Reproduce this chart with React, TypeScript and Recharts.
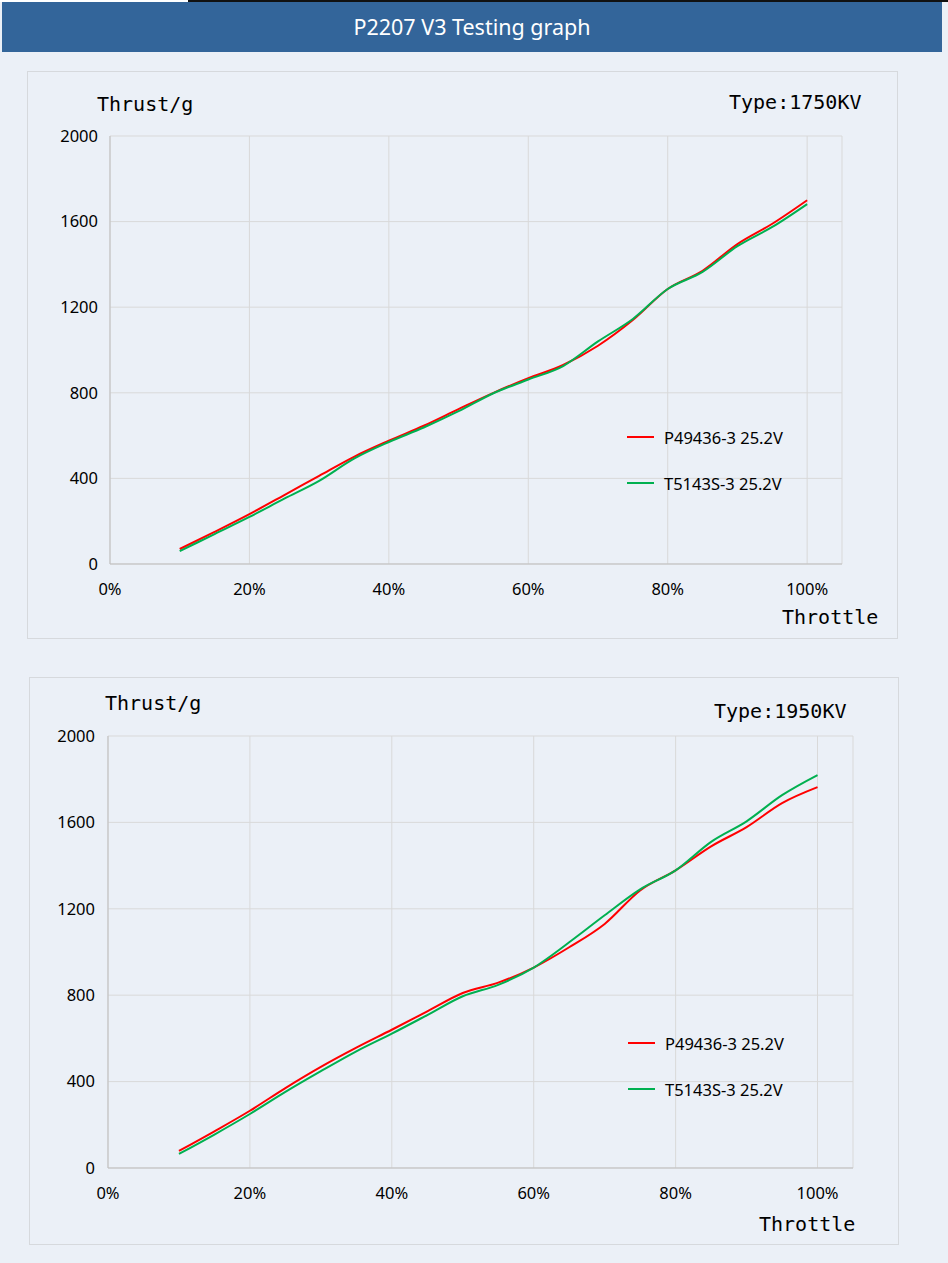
import { CartesianGrid, Line, LineChart, XAxis, YAxis } from "recharts";

const THROTTLE = [10, 15, 20, 25, 30, 35, 40, 45, 50, 55, 60, 65, 70, 75, 80, 85, 90, 95, 100];

// 1750KV
const P_1750 = [70, 150, 233, 322, 412, 501, 576, 646, 724, 800, 868, 930, 1020, 1140, 1285, 1370, 1495, 1590, 1700];
const T_1750 = [60, 140, 220, 305, 388, 492, 570, 638, 714, 798, 862, 925, 1040, 1145, 1285, 1365, 1485, 1575, 1682];

// 1950KV
const P_1950 = [79, 170, 265, 370, 468, 557, 640, 725, 810, 858, 928, 1022, 1130, 1285, 1378, 1489, 1578, 1689, 1763];
const T_1950 = [65, 155, 250, 352, 448, 540, 622, 708, 795, 848, 928, 1045, 1170, 1290, 1378, 1510, 1605, 1726, 1819];

const X_TICKS = [0, 20, 40, 60, 80, 100];
const Y_TICKS = [0, 400, 800, 1200, 1600, 2000];
const SERIES_NAMES = ["P49436-3 25.2V", "T5143S-3 25.2V"];

const RED = "#ff0000";
const GREEN = "#00b050";
const BG = "#ebf0f7";
const TICK_FONT = "'Noto Sans', 'Open Sans', sans-serif";
const MONO = "'DejaVu Sans Mono', 'Liberation Mono', monospace";

type Pos = { left: number; top: number };

type PanelProps = {
  left: number;
  top: number;
  width: number;
  height: number;
  margin: { top: number; right: number; left: number; bottom: number };
  xAxisHeight: number;
  yTickMargin: number;
  red: number[];
  green: number[];
  type: string;
  legendPos: Pos;
  thrustPos: Pos;
  typePos: Pos;
  throttlePos: Pos;
};

function LegendBox({ pos }: { pos: Pos }) {
  return (
    <div style={{ position: "absolute", left: pos.left, top: pos.top, fontFamily: TICK_FONT, fontSize: 16.5, color: "#000" }}>
      {SERIES_NAMES.map((n, i) => (
        <div key={n} style={{ display: "flex", alignItems: "center", height: 22, marginBottom: i === 0 ? 24 : 0 }}>
          <div style={{ width: 27, height: 2, background: i === 0 ? RED : GREEN, marginRight: 10 }} />
          <span style={{ whiteSpace: "nowrap" }}>{n}</span>
        </div>
      ))}
    </div>
  );
}

const labelStyle = (pos: Pos): React.CSSProperties => ({
  position: "absolute",
  left: pos.left,
  top: pos.top,
  fontFamily: MONO,
  fontSize: 20,
  color: "#000",
  whiteSpace: "nowrap",
  lineHeight: "24px",
});

function Panel(p: PanelProps) {
  const data = THROTTLE.map((t, i) => ({ t, p: p.red[i], s: p.green[i] }));
  return (
    <div
      style={{
        position: "absolute",
        left: p.left,
        top: p.top,
        width: p.width - 2,
        height: p.height - 2,
        border: "1px solid #d6d9dd",
      }}
    >
      <div style={{ position: "absolute", left: -1, top: -1 }}>
        <LineChart width={p.width} height={p.height} data={data} margin={p.margin}>
          <CartesianGrid stroke="#d9d9d9" strokeWidth={1} />
          <XAxis
            dataKey="t"
            type="number"
            domain={[0, 105]}
            ticks={X_TICKS}
            tickFormatter={(v: number) => `${v}%`}
            height={p.xAxisHeight}
            axisLine={{ stroke: "#bfbfbf" }}
            tickLine={false}
            tickMargin={13}
            tick={{ fontSize: 16.5, fill: "#000", fontFamily: TICK_FONT }}
          />
          <YAxis
            type="number"
            domain={[0, 2000]}
            ticks={Y_TICKS}
            width={50}
            axisLine={{ stroke: "#bfbfbf" }}
            tickLine={false}
            tickMargin={p.yTickMargin}
            tick={{ fontSize: 16.5, fill: "#000", fontFamily: TICK_FONT }}
          />
          <Line type="monotone" dataKey="p" stroke={RED} strokeWidth={2} dot={false} isAnimationActive={false} />
          <Line type="monotone" dataKey="s" stroke={GREEN} strokeWidth={2} dot={false} isAnimationActive={false} />
        </LineChart>
      </div>
      <LegendBox pos={p.legendPos} />
      <div style={labelStyle(p.thrustPos)}>Thrust/g</div>
      <div style={labelStyle(p.typePos)}>Type:{p.type}</div>
      <div style={labelStyle(p.throttlePos)}>Throttle</div>
    </div>
  );
}

export default function App() {
  return (
    <div style={{ position: "absolute", left: 0, top: 0, width: 948, height: 1263, background: BG, overflow: "hidden" }}>
      <div style={{ position: "absolute", left: 0, top: 0, width: 948, height: 2, background: "#fff" }} />
      <div style={{ position: "absolute", left: 188, top: 0, width: 760, height: 2, background: "#111" }} />
      <div
        style={{
          position: "absolute",
          left: 2,
          top: 2,
          width: 940,
          height: 50,
          background: "#33659a",
          color: "#fff",
          fontFamily: TICK_FONT,
          fontSize: 21.5,
          lineHeight: "50px",
          textAlign: "center",
        }}
      >
        P2207 V3 Testing graph
      </div>
      <Panel
        left={27}
        top={71}
        width={871}
        height={568}
        margin={{ top: 65, right: 56, left: 33, bottom: 0 }}
        xAxisHeight={75}
        yTickMargin={6}
        red={P_1750}
        green={T_1750}
        type="1750KV"
        legendPos={{ left: 599, top: 354 }}
        thrustPos={{ left: 69, top: 20 }}
        typePos={{ left: 701, top: 18 }}
        throttlePos={{ left: 754, top: 533 }}
      />
      <Panel
        left={29}
        top={677}
        width={870}
        height={568}
        margin={{ top: 59, right: 46, left: 29, bottom: 0 }}
        xAxisHeight={77}
        yTickMargin={7}
        red={P_1950}
        green={T_1950}
        type="1950KV"
        legendPos={{ left: 598, top: 354 }}
        thrustPos={{ left: 75, top: 13 }}
        typePos={{ left: 684, top: 21 }}
        throttlePos={{ left: 729, top: 534 }}
      />
    </div>
  );
}
